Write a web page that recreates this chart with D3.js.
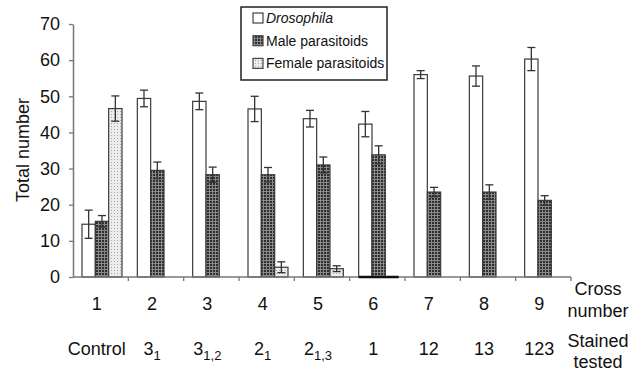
<!DOCTYPE html>
<html><head><meta charset="utf-8">
<script src="https://cdn.jsdelivr.net/npm/d3@7"></script>
<style>body{margin:0;background:#fff}svg{display:block;font-family:"Liberation Sans",Arial,sans-serif}</style>
</head><body>
<svg id="c" width="642" height="371"></svg>
<script>
// ---- data ----
const crossNumbers = ["1","2","3","4","5","6","7","8","9"];
const strainMain = ["Control","3","3","2","2","1","12","13","123"];
const strainSub  = ["","1","1,2","1","1,3","","","",""];
const series = ["Drosophila","Male parasitoids","Female parasitoids"];
const drosophila     = [14.6, 49.4, 48.6, 46.5, 43.8, 42.3, 56.0, 55.6, 60.3];
const drosophilaErr  = [3.9, 2.3, 2.3, 3.5, 2.3, 3.5, 1.1, 2.8, 3.2];
const males          = [15.4, 29.5, 28.3, 28.3, 31.0, 33.8, 23.5, 23.5, 21.2];
const malesErr       = [1.6, 2.3, 2.1, 2.0, 2.2, 2.5, 1.3, 2.0, 1.3];
const females        = [46.6, 0, 0, 2.7, 2.3, 0, 0, 0, 0];
const femalesErr     = [3.5, 0, 0, 1.5, 0.8, 0, 0, 0, 0];
const yTicks = [0,10,20,30,40,50,60,70];

const svg = d3.select("#c");
const defs = svg.append("defs");
const pm = defs.append("pattern").attr("id","pMale").attr("patternUnits","userSpaceOnUse").attr("width",3).attr("height",3);
pm.append("rect").attr("width",3).attr("height",3).attr("fill","#8a8a8a");
pm.append("rect").attr("width",2).attr("height",2).attr("fill","#2e2e2e");
const pf = defs.append("pattern").attr("id","pFem").attr("patternUnits","userSpaceOnUse").attr("width",3).attr("height",3);
pf.append("rect").attr("width",3).attr("height",3).attr("fill","#ececec");
pf.append("rect").attr("width",1).attr("height",1).attr("fill","#a8a8a8");
const fills = ["#ffffff","url(#pMale)","url(#pFem)"];

const x0 = 73, x1 = 571, yTop = 24, yBot = 277;
const x = d3.scaleBand().domain(crossNumbers).range([x0, x1]).padding(0);
const xs = d3.scaleBand().domain(series).range([9, 49]).padding(0);
const y = d3.scaleLinear().domain([0,70]).range([yBot, yTop]);

const data = [];
crossNumbers.forEach((c,i)=>{
  [[drosophila,drosophilaErr],[males,malesErr],[females,femalesErr]].forEach(([v,e],k)=>{
    data.push({c, s:series[k], k, v:v[i], e:e[i]});
  });
});

// bars
const g = svg.append("g");
g.selectAll("rect.bar").data(data.filter(d=>d.v>0)).join("rect")
  .attr("x", d=>x(d.c)+xs(d.s)).attr("width", xs.bandwidth())
  .attr("y", d=>y(d.v)).attr("height", d=>y(0)-y(d.v))
  .attr("fill", d=>fills[d.k]).attr("stroke","#3a3a3a").attr("stroke-width",1.2);

// error bars
const eb = g.selectAll("g.eb").data(data.filter(d=>d.e>0)).join("g")
  .attr("transform", d=>`translate(${x(d.c)+xs(d.s)+xs.bandwidth()/2},0)`);
eb.append("line").attr("y1",d=>y(d.v+d.e)).attr("y2",d=>y(d.v-d.e)).attr("stroke","#333").attr("stroke-width",1.3);
eb.append("line").attr("x1",-4).attr("x2",4).attr("y1",d=>y(d.v+d.e)).attr("y2",d=>y(d.v+d.e)).attr("stroke","#333").attr("stroke-width",1.3);
eb.append("line").attr("x1",-4).attr("x2",4).attr("y1",d=>y(d.v-d.e)).attr("y2",d=>y(d.v-d.e)).attr("stroke","#333").attr("stroke-width",1.3);

// y axis
const ya = svg.append("g").attr("transform",`translate(${x0},0)`)
  .call(d3.axisLeft(y).tickValues(yTicks).tickSize(4).tickPadding(9).tickSizeOuter(0));
ya.select(".domain").attr("stroke","#777").attr("stroke-width",1.5);
ya.selectAll(".tick line").attr("stroke","#777").attr("stroke-width",1.3);
ya.selectAll(".tick text").attr("font-size",18).attr("fill","#111").attr("font-family","Liberation Sans, Arial, sans-serif");

// x axis line + ticks at band boundaries
svg.append("line").attr("x1",x0).attr("x2",x1).attr("y1",y(0)).attr("y2",y(0)).attr("stroke","#777").attr("stroke-width",1.5);
svg.selectAll("line.xt").data(crossNumbers.slice(1).concat(["end"])).join("line")
  .attr("x1",d=>d==="end"?x1:x(d)).attr("x2",d=>d==="end"?x1:x(d))
  .attr("y1",y(0)).attr("y2",y(0)+4).attr("stroke","#777").attr("stroke-width",1.3);

// thick baseline under cross 6 group
svg.append("line").attr("x1",x("6")+xs(series[0])).attr("x2",x("6")+xs(series[2])+xs.bandwidth())
  .attr("y1",y(0)).attr("y2",y(0)).attr("stroke","#111").attr("stroke-width",2.5);

// x labels
svg.selectAll("text.cn").data(crossNumbers).join("text")
  .attr("x",d=>x(d)+x.bandwidth()/2-4).attr("y",310).attr("text-anchor","middle")
  .attr("font-size",18).attr("fill","#111").text(d=>d);
const st = svg.selectAll("text.st").data(crossNumbers).join("text")
  .attr("x",d=>x(d)+x.bandwidth()/2-4).attr("y",355).attr("text-anchor","middle")
  .attr("font-size",18).attr("fill","#111");
st.append("tspan").text((d,i)=>strainMain[i]);
st.append("tspan").attr("font-size",13).attr("dy",5).text((d,i)=>strainSub[i]);

// right-side labels
[["Cross",295],["number",317],["Stained",347],["tested",368]].forEach(([t,yy])=>{
  svg.append("text").attr("x",598).attr("y",yy).attr("text-anchor","middle").attr("font-size",18).attr("fill","#111").text(t);
});

// y title
svg.append("text").attr("transform","translate(29,150) rotate(-90)").attr("text-anchor","middle")
  .attr("font-size",18).attr("fill","#111").text("Total number");

// legend
const lg = svg.append("g");
lg.append("rect").attr("x",241).attr("y",7).attr("width",146).attr("height",73).attr("fill","#fff").attr("stroke","#222").attr("stroke-width",1.5);
series.forEach((s,k)=>{
  const by = 23 + k*22.7;
  lg.append("rect").attr("x",253).attr("y",by-10).attr("width",10).attr("height",10)
    .attr("fill",fills[k]).attr("stroke","#444").attr("stroke-width",1.2);
  lg.append("text").attr("x",266).attr("y",by).attr("font-size",14).attr("fill","#111")
    .attr("font-style",k===0?"italic":"normal").text(s);
});
</script>
</body></html>
